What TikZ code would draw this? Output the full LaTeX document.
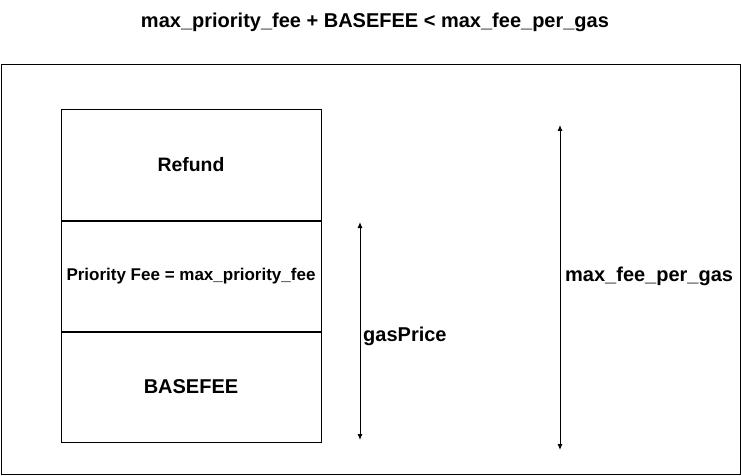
\documentclass[tikz,border=0pt]{standalone}
\usepackage{fontspec}
\setmainfont{Liberation Sans}
\usetikzlibrary{arrows.meta}
\usetikzlibrary{positioning}
\tikzset{layer/.style = {draw, line width = 1pt, minimum width = 260pt,
                         minimum height = 110pt, inner sep = 0, font = \bfseries}}
\tikzset{span/.style = {line width = 1pt, {Latex[length = 6pt, width = 5pt]}-{Latex[length = 6pt, width = 5pt]}}}
\tikzset{lbl/.style = {font = \fontsize{20}{24}\selectfont\bfseries, inner sep = 2pt}}

\begin{document}
\begin{tikzpicture}[x = 1pt, y = -1pt]
    \useasboundingbox (0, 0) rectangle (741, 476);

    \node [font = \fontsize{20}{24}\selectfont\bfseries] (title) at (375, 22)
        {max\_priority\_fee + BASEFEE < max\_fee\_per\_gas};
    \draw [line width = 1pt] (1, 65) rectangle (740, 474);

    \node [layer, font = \fontsize{19.4}{22}\selectfont\bfseries] (refund) at (191, 165) {Refund};
    \node [layer, below = 0 of refund, font = \fontsize{17}{20}\selectfont\bfseries] (priority)
        {Priority Fee = max\_priority\_fee};
    \node [layer, below = 0 of priority, font = \fontsize{20}{24}\selectfont\bfseries] (basefee)
        {BASEFEE};

    \coordinate (gtop) at (360, 222);
    \coordinate (gbot) at (360, 440);
    \draw [span] (gtop) -- (gbot);
    \node [lbl, anchor = west] (gas) at (361, 336) {gasPrice};

    \coordinate (mtop) at (560, 125);
    \coordinate (mbot) at (560, 450);
    \draw [span] (mtop) -- (mbot);
    \node [lbl, anchor = west] (maxfee) at (563, 276) {max\_fee\_per\_gas};
\end{tikzpicture}
\end{document}
